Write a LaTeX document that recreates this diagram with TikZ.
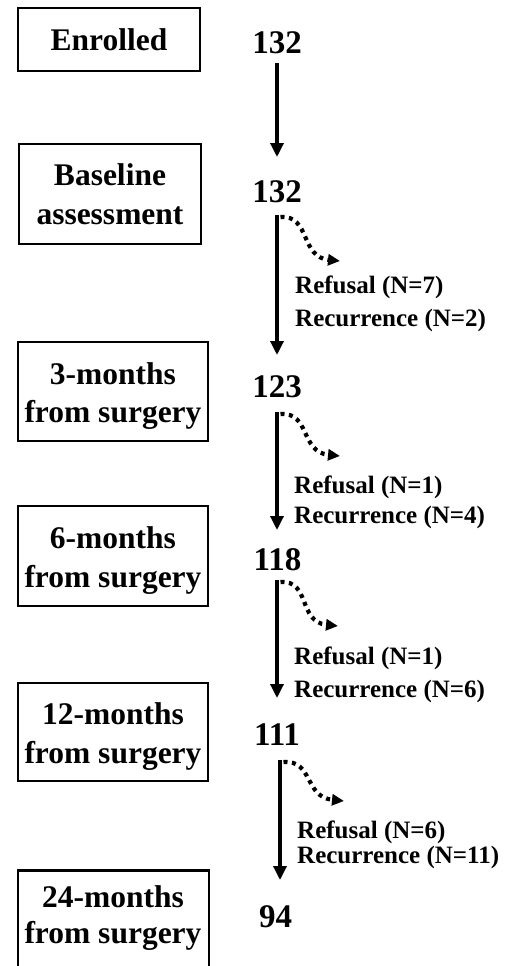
\documentclass[tikz,border=0pt]{standalone}
\usepackage{fontspec}
\setmainfont{Liberation Serif}
\usetikzlibrary{arrows.meta}
\newcommand{\topstrut}{\rule{0pt}{31pt}}
\begin{document}
\begin{tikzpicture}[x=1pt,y=-1pt,
  boxnode/.style={draw, line width=2.6pt, align=center, inner sep=0pt,
    font=\fontsize{31.5}{38.5}\selectfont\bfseries},
  boxtext/.style={align=center, inner sep=0pt,
    font=\fontsize{31.5}{36}\selectfont\bfseries},
  numnode/.style={font=\fontsize{33}{40}\selectfont\bfseries, inner sep=0pt, anchor=base},
  lbl/.style={font=\fontsize{25}{30}\selectfont\bfseries, inner sep=0pt, anchor=base west},
  mainarrow/.style={line width=3.3pt, -{Triangle[length=14pt,width=13pt]}},
  dotarrow/.style={line width=4.2pt, dash pattern=on 4pt off 4.5pt,
    -{Triangle[length=12pt,width=11pt]}}]
\clip (0,0) rectangle (510,966);

% boxes
\node[boxnode, minimum width=182pt, minimum height=63pt] (b1) at (109,39.5) {Enrolled};
\node[boxnode, minimum width=182pt, minimum height=100pt] (b2) at (110,194) {Baseline\\assessment};
\node[boxnode, minimum width=190pt, minimum height=99pt] (b3) at (113,391.5) {\topstrut 3-months\\from surgery};
\node[boxnode, minimum width=190pt, minimum height=100pt] (b4) at (113,556) {\topstrut 6-months\\from surgery};
\node[boxnode, minimum width=190pt, minimum height=98pt] (b5) at (113,732) {\topstrut 12-months\\from surgery};
\node[boxnode, minimum width=191pt, minimum height=200pt, anchor=north] (b6) at (113.5,869) {};
\node[boxtext] (t6) at (113,918) {24-months\\from surgery};

% numbers
\node[numnode] (n1) at (277,53) {132};
\node[numnode] (n2) at (277,202) {132};
\node[numnode] (n3) at (277,397) {123};
\node[numnode] (n4) at (277.5,570) {118};
\node[numnode] (n5) at (277,745) {111};
\node[numnode] (n6) at (275.5,927) {94};

% labels
\node[lbl] (r1) at (295,293) {Refusal (N=7)};
\node[lbl] (c1) at (295,326) {Recurrence (N=2)};
\node[lbl] (r2) at (294,493) {Refusal (N=1)};
\node[lbl] (c2) at (294,523) {Recurrence (N=4)};
\node[lbl] (r3) at (294,664) {Refusal (N=1)};
\node[lbl] (c3) at (294,697) {Recurrence (N=6)};
\node[lbl] (r4) at (297,838) {Refusal (N=6)};
\node[lbl] (c4) at (297,863) {Recurrence (N=11)};

% arrow coordinates
\coordinate (s1) at (277,63);  \coordinate (e1) at (277,157);
\coordinate (s2) at (277,215); \coordinate (e2) at (277,355);
\coordinate (s3) at (277,412); \coordinate (e3) at (277,530);
\coordinate (s4) at (277,580); \coordinate (e4) at (277,698);
\coordinate (s5) at (280,760); \coordinate (e5) at (280,880);

\coordinate (d1s) at (280.5,217); \coordinate (d1e) at (340,261);
\coordinate (d2s) at (280.5,414); \coordinate (d2e) at (340,456);
\coordinate (d3s) at (280.5,582); \coordinate (d3e) at (338,626);
\coordinate (d4s) at (283.5,762); \coordinate (d4e) at (344,801);

\draw[mainarrow] (s1) -- (e1);
\draw[mainarrow] (s2) -- (e2);
\draw[mainarrow] (s3) -- (e3);
\draw[mainarrow] (s4) -- (e4);
\draw[mainarrow] (s5) -- (e5);

\draw[dotarrow] (d1s) .. controls +(30,-2) and +(-40,-4) .. (d1e);
\draw[dotarrow] (d2s) .. controls +(30,-2) and +(-40,-4) .. (d2e);
\draw[dotarrow] (d3s) .. controls +(30,-2) and +(-40,-4) .. (d3e);
\draw[dotarrow] (d4s) .. controls +(30,-2) and +(-40,-4) .. (d4e);
\end{tikzpicture}
\end{document}
